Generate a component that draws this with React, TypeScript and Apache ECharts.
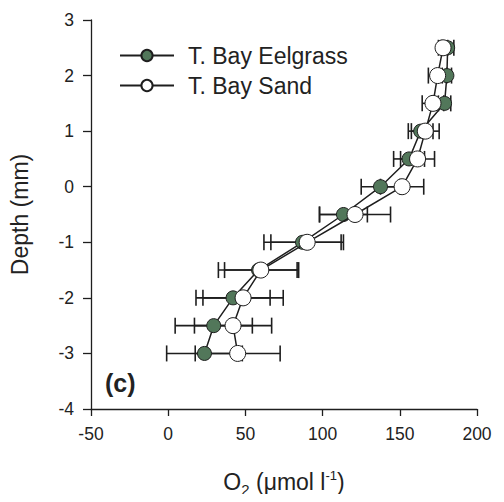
import React, { useEffect, useRef } from "react";
import * as echarts from "echarts";

const depths = [2.5, 2, 1.5, 1, 0.5, 0, -0.5, -1, -1.5, -2, -2.5, -3];
const eelgrass = [181, 180.5, 179, 163.5, 156, 137.5, 113.5, 87, 58.5, 42, 29.5, 23.5];
const eelgrassErr = [4, 3, 4, 8, 10, 12.5, 15.5, 25, 26, 24, 25, 24.5];
const sand = [178, 174.5, 171.5, 166.5, 161.5, 151.5, 121, 90, 60, 48.5, 42, 45];
const sandErr = [3, 6, 7, 9, 11, 14, 23, 23.5, 23.5, 26, 25, 27.5];
const xTicks = [-50, 0, 50, 100, 150, 200];
const yTicks = [-4, -3, -2, -1, 0, 1, 2, 3];

const FONT = "'Liberation Sans', Arial, sans-serif";
const GREEN = "#52775a";
const INK = "#1e1e1e";

function errItem(params: any, api: any) {
  const y = api.value(2);
  const p1 = api.coord([api.value(0), y]);
  const p2 = api.coord([api.value(1), y]);
  const h = 8;
  const style = { stroke: INK, lineWidth: 1.6 };
  return {
    type: "group",
    children: [
      { type: "line", shape: { x1: p1[0], y1: p1[1], x2: p2[0], y2: p2[1] }, style },
      { type: "line", shape: { x1: p1[0], y1: p1[1] - h, x2: p1[0], y2: p1[1] + h }, style },
      { type: "line", shape: { x1: p2[0], y1: p2[1] - h, x2: p2[0], y2: p2[1] + h }, style },
    ],
  };
}

export default function App() {
  const ref = useRef<HTMLDivElement>(null);
  useEffect(() => {
    if (!ref.current) return;
    const chart = echarts.init(ref.current, null, { renderer: "svg" });
    const eelPts = depths.map((d, i) => [eelgrass[i], d]);
    const sandPts = depths.map((d, i) => [sand[i], d]);
    const eelErr = depths.map((d, i) => [eelgrass[i] - eelgrassErr[i], eelgrass[i] + eelgrassErr[i], d]);
    const sandE = depths.map((d, i) => [sand[i] - sandErr[i], sand[i] + sandErr[i], d]);
    chart.setOption({
      animation: false,
      backgroundColor: "#ffffff",
      grid: { left: 88, right: 27, top: 20, bottom: 93, containLabel: false },
      legend: {
        left: 119,
        top: 44,
        orient: "vertical",
        padding: 0,
        itemWidth: 54,
        itemHeight: 14,
        itemGap: 7,
        textStyle: { fontFamily: FONT, fontSize: 23, color: "#222", padding: [0, 0, 0, 9] },
        data: ["T. Bay Eelgrass", "T. Bay Sand"],
      },
      xAxis: {
        type: "value",
        min: -50,
        max: 200,
        interval: 50,
        name: "O{sub|2} (μmol l{sup|-1})",
        nameLocation: "middle",
        nameGap: 58,
        nameTextStyle: {
          fontFamily: FONT,
          fontSize: 23,
          color: "#222",
          rich: {
            sub: { fontFamily: FONT, fontSize: 15, color: "#222", padding: [15, 0, 0, 0] },
            sup: { fontFamily: FONT, fontSize: 13, color: "#222", padding: [0, 0, 13, 0] },
          },
        },
        axisLine: { show: true, onZero: false, lineStyle: { color: INK, width: 1.3 } },
        axisTick: { show: true, inside: false, length: 7, lineStyle: { color: INK, width: 1.3 } },
        axisLabel: {
          fontFamily: FONT,
          fontSize: 17.5,
          color: "#222",
          margin: 16,
          formatter: (v: number) => (xTicks.includes(v) ? String(v) : ""),
        },
        splitLine: { show: false },
      },
      yAxis: {
        type: "value",
        min: -4,
        max: 3,
        interval: 1,
        name: "Depth (mm)",
        nameLocation: "middle",
        nameGap: 60,
        nameTextStyle: { fontFamily: FONT, fontSize: 23, color: "#222" },
        axisLine: { show: true, onZero: false, lineStyle: { color: INK, width: 1.3 } },
        axisTick: { show: true, inside: false, length: 8, lineStyle: { color: INK, width: 1.3 } },
        axisLabel: {
          fontFamily: FONT,
          fontSize: 17.5,
          color: "#222",
          margin: 17,
          formatter: (v: number) => (yTicks.includes(v) ? String(v) : ""),
        },
        splitLine: { show: false },
      },
      graphic: [
        {
          type: "text",
          left: 105,
          top: 370,
          style: { text: "(c)", fontFamily: FONT, fontSize: 25, fontWeight: "bold", fill: "#222" },
        },
      ],
      series: [
        {
          type: "custom",
          name: "eelErr",
          renderItem: errItem,
          data: eelErr,
          encode: { x: [0, 1], y: 2 },
          z: 1,
          silent: true,
        },
        {
          type: "custom",
          name: "sandErr",
          renderItem: errItem,
          data: sandE,
          encode: { x: [0, 1], y: 2 },
          z: 1,
          silent: true,
        },
        {
          type: "line",
          name: "T. Bay Eelgrass",
          data: eelPts,
          symbol: "circle",
          symbolSize: 14,
          lineStyle: { color: INK, width: 1.5 },
          itemStyle: { color: GREEN, borderColor: INK, borderWidth: 1 },
          z: 3,
        },
        {
          type: "line",
          name: "T. Bay Sand",
          data: sandPts,
          symbol: "circle",
          symbolSize: 16,
          lineStyle: { color: INK, width: 1.5 },
          itemStyle: { color: "#ffffff", borderColor: INK, borderWidth: 1 },
          z: 4,
        },
      ],
    });
    return () => chart.dispose();
  }, []);
  return <div ref={ref} style={{ width: 504, height: 502, margin: -8 }} />;
}
